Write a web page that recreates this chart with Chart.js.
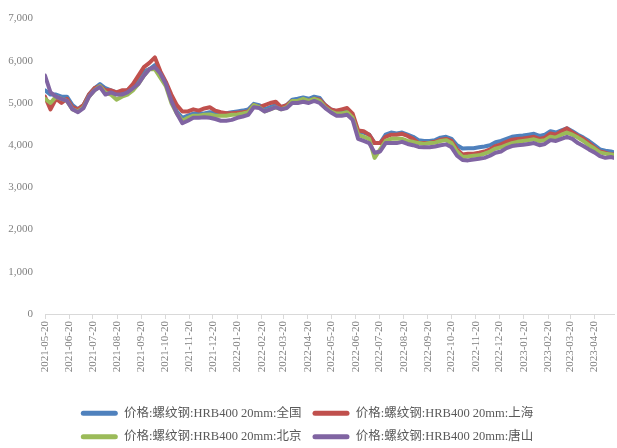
<!DOCTYPE html>
<html>
<head>
<meta charset="utf-8">
<script src="https://cdn.jsdelivr.net/npm/chart.js@4.4.1/dist/chart.umd.min.js"></script>
<style>
  html, body { margin: 0; padding: 0; background: #ffffff; }
  canvas { display: block; }
</style>
</head>
<body>
<canvas id="chart" width="617" height="448"></canvas>
<script>
// Weekly observation dates
const dates = [
  '2021-05-20','2021-05-27','2021-06-03','2021-06-10','2021-06-17','2021-06-24','2021-07-01','2021-07-08',
  '2021-07-15','2021-07-22','2021-07-29','2021-08-05','2021-08-12','2021-08-19','2021-08-26','2021-09-02',
  '2021-09-09','2021-09-16','2021-09-23','2021-09-30','2021-10-07','2021-10-14','2021-10-21','2021-10-28',
  '2021-11-04','2021-11-11','2021-11-18','2021-11-25','2021-12-02','2021-12-09','2021-12-16','2021-12-23',
  '2021-12-30','2022-01-06','2022-01-13','2022-01-20','2022-01-27','2022-02-03','2022-02-10','2022-02-17',
  '2022-02-24','2022-03-03','2022-03-10','2022-03-17','2022-03-24','2022-03-31','2022-04-07','2022-04-14',
  '2022-04-21','2022-04-28','2022-05-05','2022-05-12','2022-05-19','2022-05-26','2022-06-02','2022-06-09',
  '2022-06-16','2022-06-23','2022-06-30','2022-07-07','2022-07-14','2022-07-21','2022-07-28','2022-08-04',
  '2022-08-11','2022-08-18','2022-08-25','2022-09-01','2022-09-08','2022-09-15','2022-09-22','2022-09-29',
  '2022-10-06','2022-10-13','2022-10-20','2022-10-27','2022-11-03','2022-11-10','2022-11-17','2022-11-24',
  '2022-12-01','2022-12-08','2022-12-15','2022-12-22','2022-12-29','2023-01-05','2023-01-12','2023-01-19',
  '2023-01-26','2023-02-02','2023-02-09','2023-02-16','2023-02-23','2023-03-02','2023-03-09','2023-03-16',
  '2023-03-23','2023-03-30','2023-04-06','2023-04-13','2023-04-20','2023-04-27','2023-05-04','2023-05-11',
  '2023-05-15'
];

// Month labels along the date axis
const tickLabels = [
  '2021-05-20','2021-06-20','2021-07-20','2021-08-20','2021-09-20','2021-10-20','2021-11-20','2021-12-20',
  '2022-01-20','2022-02-20','2022-03-20','2022-04-20','2022-05-20','2022-06-20','2022-07-20','2022-08-20',
  '2022-09-20','2022-10-20','2022-11-20','2022-12-20','2023-01-20','2023-02-20','2023-03-20','2023-04-20'
];

const seriesNames = [
  '价格:螺纹钢:HRB400 20mm:全国',
  '价格:螺纹钢:HRB400 20mm:上海',
  '价格:螺纹钢:HRB400 20mm:北京',
  '价格:螺纹钢:HRB400 20mm:唐山'
];

// 全国
const quanguo = [
  5300,5200,5200,5150,5150,4950,4850,4950,5200,5350,5450,5350,5300,5250,5250,5300,
  5400,5550,5750,5800,5900,5700,5450,5100,4800,4650,4700,4750,4750,4750,4780,4770,
  4750,4760,4780,4800,4820,4850,4980,4950,4850,4900,4950,4900,4950,5080,5100,5130,
  5100,5150,5120,4950,4850,4800,4800,4850,4700,4300,4300,4250,4050,4050,4250,4300,
  4280,4300,4250,4200,4120,4100,4100,4120,4180,4200,4150,4000,3920,3930,3930,3950,
  3970,4000,4070,4100,4150,4200,4220,4230,4250,4270,4220,4250,4330,4300,4350,4400,
  4330,4250,4180,4100,4000,3900,3870,3850,3830
];
// 上海
const shanghai = [
  5150,4850,5100,5000,5100,4900,4850,4950,5200,5350,5400,5300,5300,5250,5300,5300,
  5450,5650,5850,5950,6080,5750,5500,5200,4950,4800,4800,4850,4820,4870,4900,4820,
  4780,4760,4760,4770,4780,4800,4950,4900,4950,5000,5030,4900,4950,5050,5050,5080,
  5050,5100,5080,4950,4850,4820,4850,4880,4750,4350,4330,4250,4050,4050,4200,4250,
  4250,4270,4220,4150,4050,4050,4060,4080,4130,4150,4100,3900,3780,3800,3800,3820,
  3850,3900,3980,4020,4080,4130,4150,4160,4180,4200,4150,4180,4280,4250,4330,4400,
  4300,4220,4150,4050,3950,3850,3820,3780,3780
];
// 北京
const beijing = [
  5100,5000,5150,5100,5050,4850,4800,4900,5150,5300,5400,5250,5200,5080,5150,5200,
  5300,5450,5650,5800,5800,5600,5400,5000,4750,4580,4650,4700,4700,4720,4730,4700,
  4700,4700,4720,4730,4750,4780,4950,4900,4800,4850,4900,4850,4900,5050,5050,5100,
  5050,5100,5050,4900,4800,4750,4750,4780,4650,4250,4200,4150,3700,3900,4100,4150,
  4150,4150,4100,4080,4050,4030,4050,4060,4100,4120,4050,3850,3720,3730,3750,3760,
  3800,3850,3920,3950,4000,4050,4080,4100,4120,4140,4100,4120,4200,4180,4250,4300,
  4250,4180,4100,4000,3920,3830,3800,3780,3770
];
// 唐山
const tangshan = [
  5650,5250,5150,5100,5050,4850,4780,4880,5150,5300,5380,5200,5250,5200,5200,5250,
  5350,5450,5650,5800,5850,5700,5450,5050,4750,4520,4580,4650,4650,4660,4650,4620,
  4580,4580,4600,4650,4680,4720,4900,4880,4800,4850,4900,4850,4880,5000,5000,5030,
  5000,5050,5000,4880,4780,4700,4700,4720,4600,4150,4100,4050,3820,3850,4050,4050,
  4050,4080,4030,4000,3960,3950,3950,3970,4000,4020,3950,3750,3650,3640,3660,3680,
  3700,3750,3820,3850,3930,3980,4000,4010,4030,4050,4000,4030,4120,4100,4150,4200,
  4150,4050,3980,3900,3830,3740,3700,3720,3700
];

const seriesColors = ['#4F81BD', '#C0504D', '#9BBB59', '#8064A2'];
const seriesValues = [quanguo, shanghai, beijing, tangshan];

// Days since the first date, used as the x coordinate
const DAY_MS = 86400000;
const toMs = s => { const p = s.split('-').map(Number); return Date.UTC(p[0], p[1] - 1, p[2]); };
const origin = toMs(dates[0]);
const toDay = s => Math.round((toMs(s) - origin) / DAY_MS);
const xDays = dates.map(toDay);
const tickDays = tickLabels.map(toDay);

const datasets = seriesValues.map((vals, k) => ({
  label: seriesNames[k],
  data: vals.map((v, i) => ({ x: xDays[i], y: v })),
  borderColor: seriesColors[k],
  backgroundColor: seriesColors[k],
  borderWidth: 4,
  pointRadius: 0,
  tension: 0,
  fill: false,
  borderJoinStyle: 'round',
  borderCapStyle: 'round',
  order: 4 - k
}));

const serif = "'Liberation Serif', 'Times New Roman', 'Noto Sans CJK SC', serif";

new Chart(document.getElementById('chart'), {
  type: 'line',
  data: { datasets },
  options: {
    responsive: false,
    animation: false,
    layout: { padding: { top: 18, right: 3, left: 0, bottom: -5 } },
    plugins: {
      tooltip: { enabled: false },
      legend: {
        position: 'bottom',
        labels: {
          sort: (a, b) => a.datasetIndex - b.datasetIndex,
          // legend swatches are plain filled bars, no outline
          generateLabels: chart => Chart.defaults.plugins.legend.labels.generateLabels(chart)
            .map(item => Object.assign(item, { lineWidth: 0, strokeStyle: 'rgba(0,0,0,0)' })),
          boxWidth: 37,
          boxHeight: 5,
          useBorderRadius: true,
          borderRadius: 2.5,
          padding: 11,
          color: '#595959',
          font: { family: serif, size: 12.5 }
        }
      }
    },
    scales: {
      x: {
        type: 'linear',
        min: 0,
        max: xDays[xDays.length - 1],
        afterBuildTicks: s => { s.ticks = tickDays.map(v => ({ value: v })); },
        afterFit: s => { s.height = 82; },
        grid: { display: true, drawOnChartArea: false, drawTicks: true, tickLength: 5, color: '#d9d9d9' },
        border: { display: true, color: '#d9d9d9', width: 1 },
        ticks: {
          autoSkip: false,
          minRotation: 90,
          maxRotation: 90,
          padding: 2,
          color: '#808080',
          font: { family: serif, size: 11 },
          callback: v => { const i = tickDays.indexOf(v); return i >= 0 ? tickLabels[i] : ''; }
        }
      },
      y: {
        min: 0,
        max: 7000,
        afterFit: s => { s.width = 45; },
        grid: { display: false, drawTicks: false },
        border: { display: false },
        ticks: {
          stepSize: 1000,
          padding: 12,
          color: '#808080',
          font: { family: serif, size: 11 },
          callback: v => v.toLocaleString('en-US')
        }
      }
    }
  }
});
</script>
</body>
</html>
